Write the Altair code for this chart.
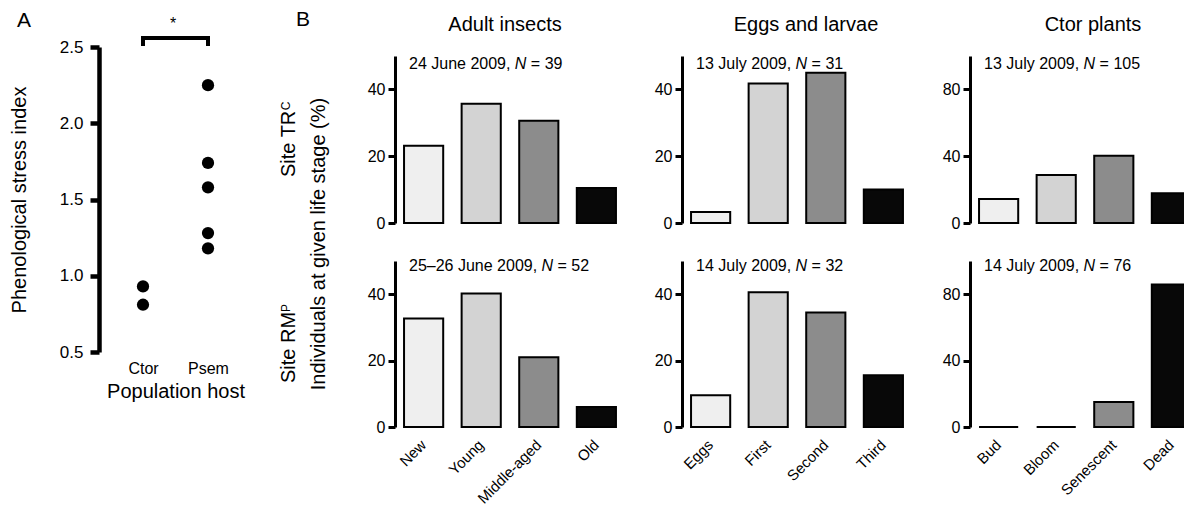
import altair as alt
import pandas as pd

FONT = "Liberation Sans"

# ---------------- data ----------------
host_labels = ["Ctor", "Psem"]
stress_ctor = [0.93, 0.81]
stress_psem = [2.25, 1.74, 1.58, 1.28, 1.18]

adult_stages = ["New", "Young", "Middle-aged", "Old"]
larva_stages = ["Eggs", "First", "Second", "Third"]
plant_stages = ["Bud", "Bloom", "Senescent", "Dead"]

adult_tr = [23.1, 35.7, 30.6, 10.5]
larva_tr = [3.3, 41.8, 45.0, 10.0]
plant_tr = [14.4, 28.8, 40.2, 17.8]

adult_rm = [32.7, 40.2, 21.0, 6.0]
larva_rm = [9.6, 40.6, 34.5, 15.6]
plant_rm = [0.0, 0.0, 15.0, 85.8]

dates_tr = ["24 June 2009", "13 July 2009", "13 July 2009"]
n_tr = [39, 31, 105]
dates_rm = ["25\u201326 June 2009", "14 July 2009", "14 July 2009"]
n_rm = [52, 32, 76]

col_titles = ["Adult insects", "Eggs and larvae", "Ctor plants"]
y_max = [50, 50, 100]
y_ticks = [[0, 20, 40], [0, 20, 40], [0, 40, 80]]

stage_fill = ["#efefef", "#d3d3d3", "#8c8c8c", "#080808"]

ONE = pd.DataFrame({"a": [0]})

# Arial / Liberation Sans advance widths (per 1000 em)
ADV = {c: 556 for c in "0123456789"}
ADV.update({" ": 278, "J": 500, "u": 556, "n": 556, "e": 556, "l": 222, "y": 500,
            ",": 278, "\u2013": 556, "=": 584, "N": 722, "S": 667, "i": 222,
            "t": 278, "T": 611, "R": 722, "M": 833})


def tw(s, size):
    return sum(ADV.get(c, 556) for c in s) * size / 1000.0


def txt(t, x, y, size=16, angle=0, align="center", baseline="middle", style="normal"):
    return alt.Chart(ONE).mark_text(
        text=t, font=FONT, fontSize=size, angle=angle, align=align,
        baseline=baseline, fontStyle=style, color="black"
    ).encode(x=alt.value(x), y=alt.value(y))


def frame(x1, x2, y1, y2):
    return alt.Chart(ONE).mark_rect(opacity=0).encode(
        x=alt.value(x1), x2=alt.value(x2), y=alt.value(y1), y2=alt.value(y2))


def annotation(date, n, x0, y, size=16):
    p1 = date + ", "
    x1 = x0 + tw(p1, size)
    x2 = x1 + tw("N", size) + tw(" ", size)
    return [
        txt(date + ",", x0, y, size, align="left"),
        txt("N", x1, y, size, align="left", style="italic"),
        txt("= " + str(n), x2, y, size, align="left"),
    ]


PAGE_W, PAGE_H = 1184, 508
ORG_X = 99    # page x of panel A's plot origin
ORG = 56      # page y of the first-row plot origin

# ---------------- panel A ----------------
a_df = pd.DataFrame({
    "host": ["Ctor"] * len(stress_ctor) + ["Psem"] * len(stress_psem),
    "psi": stress_ctor + stress_psem,
})

A_W = 153
A_H = 352 - ORG
pts = alt.Chart(a_df).mark_circle(size=150, color="black", opacity=1).encode(
    x=alt.X("host:N", scale=alt.Scale(domain=host_labels, type="point", padding=0.677),
            axis=alt.Axis(title=None, ticks=False, tickSize=0, domain=False, labelAngle=0,
                          labelFont=FONT, labelFontSize=16, labelColor="black",
                          labelPadding=8)),
    y=alt.Y("psi:Q", scale=alt.Scale(domain=[0.5, 2.5], nice=False, zero=False,
                                     range=[A_H, 47 - ORG]),
            axis=alt.Axis(title=None, values=[0.5, 1.0, 1.5, 2.0, 2.5], format=".1f",
                          grid=False, domainColor="black", domainWidth=4.5,
                          tickColor="black", tickWidth=4.5, tickSize=9,
                          labelFont=FONT, labelFontSize=17, labelColor="black",
                          labelPadding=7)),
)
br_h = alt.Chart(ONE).mark_rule(color="black", strokeWidth=4, strokeCap="square").encode(
    x=alt.datum("Ctor"), x2=alt.datum("Psem"), y=alt.value(38 - ORG))
br_l = alt.Chart(ONE).mark_rule(color="black", strokeWidth=4).encode(
    x=alt.datum("Ctor"), y=alt.value(38 - ORG), y2=alt.value(46 - ORG))
br_r = alt.Chart(ONE).mark_rule(color="black", strokeWidth=4).encode(
    x=alt.datum("Psem"), y=alt.value(38 - ORG), y2=alt.value(46 - ORG))

chart_a = alt.layer(
    frame(-ORG_X, 161, -ORG, PAGE_H - ORG),
    pts, br_h, br_l, br_r,
    txt("*", 74, 29 - ORG, 16, baseline="alphabetic"),
    txt("A", -75, 21 - ORG, 21),
    txt("Population host", 77, 392 - ORG, 20),
    txt("Phenological stress index", -79, 200 - ORG, 20, angle=270),
).properties(width=A_W, height=A_H)

# ---------------- label column ----------------
s1 = "Site TR"
s2 = "Site RM"
LAB_W = 90
lab = alt.layer(
    frame(0, LAB_W, -ORG, PAGE_H - ORG),
    txt("B", 43, 20 - ORG, 21),
    txt(s1, 29, 177 - ORG, 20, angle=270, align="left"),
    txt("C", 25.5, 177 - ORG - tw(s1, 20), 12, angle=270, align="left"),
    txt(s2, 29, 383 - ORG, 20, angle=270, align="left"),
    txt("P", 25.5, 383 - ORG - tw(s2, 20), 12, angle=270, align="left"),
    txt("Individuals at given life stage (%)", 59, 244 - ORG, 20, angle=270),
).properties(width=LAB_W, height=400)


# ---------------- panel B ----------------
def panel(stages, values, col, top, date, n, fx1, fx2, plot_w=230, clip=False):
    df = pd.DataFrame({"stage": stages, "pct": values, "rank": list(range(len(stages)))})
    h = 167 if top else 166
    xscale = alt.Scale(domain=stages, paddingInner=0.32, paddingOuter=0.157, range=[0, 230])
    if top:
        xaxis = None
    else:
        xaxis = alt.Axis(title=None, labelAngle=-45, labelAlign="right", labelBaseline="middle",
                         labelPadding=15, ticks=False, tickSize=0, domain=False,
                         labelFont=FONT, labelFontSize=15, labelColor="black")
    bars = alt.Chart(df).mark_bar(stroke="black", strokeWidth=2, clip=clip).encode(
        x=alt.X("stage:N", scale=xscale, axis=xaxis, sort=stages),
        y=alt.Y("pct:Q", scale=alt.Scale(domain=[0, y_max[col]], nice=False),
                axis=alt.Axis(title=None, values=y_ticks[col], grid=False,
                              domainColor="black", domainWidth=3,
                              tickColor="black", tickWidth=3, tickSize=7,
                              labelFont=FONT, labelFontSize=16, labelColor="black",
                              labelPadding=3)),
        fill=alt.Fill("rank:O", scale=alt.Scale(domain=[0, 1, 2, 3], range=stage_fill),
                      legend=None),
    )
    layers = [frame(fx1, fx2, -ORG if top else -21, 184 if top else PAGE_H - 261), bars]
    layers += annotation(date, n, 14, 8 if top else 5)
    if top:
        tx = [110, 124, 123][col]
        layers.append(txt(col_titles[col], tx, 25 - ORG, 20))
    return alt.layer(*layers).properties(width=plot_w, height=h)


stage_sets = [adult_stages, larva_stages, plant_stages]
tr_vals = [adult_tr, larva_tr, plant_tr]
rm_vals = [adult_rm, larva_rm, plant_rm]
fx = [(-45, 245), (-42, 245), (-43, 214)]
widths = [230, 230, 214]

cols = []
for c in range(3):
    top = panel(stage_sets[c], tr_vals[c], c, True, dates_tr[c], n_tr[c], fx[c][0], fx[c][1],
                plot_w=widths[c], clip=False)
    bot = panel(stage_sets[c], rm_vals[c], c, False, dates_rm[c], n_rm[c], fx[c][0], fx[c][1],
                plot_w=widths[c], clip=False)
    cols.append(alt.vconcat(top, bot, spacing=0))

# Fixed page size: the figure is cut at the right edge, like the reference.
chart = alt.hconcat(chart_a, lab, *cols, spacing=0).properties(
    autosize=alt.AutoSizeParams(type="none"),
    padding={"left": ORG_X, "top": ORG, "right": PAGE_W - ORG_X, "bottom": PAGE_H - ORG},
    background="white",
).configure_view(stroke=None)

chart.save("out.html", embed_options={"renderer": "svg", "actions": False})
